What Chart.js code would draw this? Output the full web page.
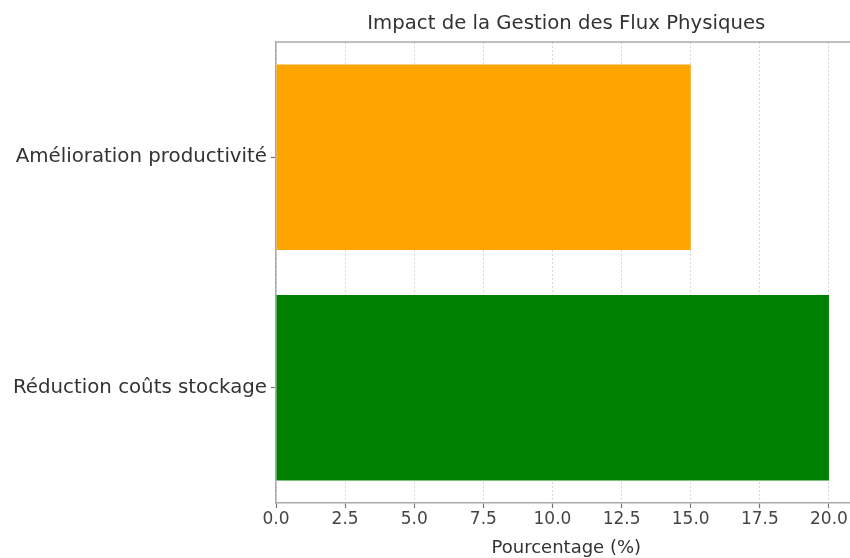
<!DOCTYPE html>
<html>
<head>
<meta charset="utf-8">
<script src="https://cdn.jsdelivr.net/npm/chart.js@4"></script>
<style>
  html, body { margin: 0; padding: 0; background: #fff; overflow: hidden; }
  #wrap { width: 870px; height: 558px; }
</style>
</head>
<body>
<div id="wrap"><canvas id="chart" width="870" height="558"></canvas></div>
<script>
// Données du graphique (de haut en bas)
const categories = ['Amélioration productivité', 'Réduction coûts stockage'];
const values = [15, 20];
const barColors = ['#FFA500', '#008000'];
const xTicks = [0, 2.5, 5, 7.5, 10, 12.5, 15, 17.5, 20];

const FONT = '"DejaVu Sans", sans-serif';

// Cadre du haut (la bordure droite sort de l'image)
const topFrame = {
    id: 'topFrame',
    afterDraw(chart) {
        const { ctx, chartArea } = chart;
        ctx.save();
        ctx.strokeStyle = '#aaaaaa';
        ctx.lineWidth = 1.5;
        ctx.beginPath();
        ctx.moveTo(chartArea.left, chartArea.top);
        ctx.lineTo(chartArea.right, chartArea.top);
        ctx.stroke();
        ctx.restore();
    }
};

const ctx = document.getElementById('chart').getContext('2d');
new Chart(ctx, {
    type: 'bar',
    data: {
        labels: categories,
        datasets: [{
            data: values,
            backgroundColor: barColors,
            borderWidth: 0,
            barPercentage: 0.805,
            categoryPercentage: 1.0
        }]
    },
    options: {
        indexAxis: 'y',
        responsive: false,
        animation: false,
        layout: { padding: { left: 0, right: 13.4, top: 0, bottom: 0 } },
        plugins: {
            legend: { display: false },
            tooltip: { enabled: false },
            title: {
                display: true,
                fullSize: false,
                text: 'Impact de la Gestion des Flux Physiques',
                color: '#333333',
                font: { family: FONT, size: 19.7, weight: 'normal' },
                padding: { top: 12.2, bottom: 6.2 }
            }
        },
        scales: {
            x: {
                min: 0,
                max: 21,
                afterBuildTicks: (scale) => {
                    scale.ticks = xTicks.map(v => ({ value: v }));
                },
                afterFit: (scale) => { scale.height = 55; },
                grid: {
                    color: '#d8d8d8',
                    lineWidth: 1,
                    drawTicks: true,
                    tickLength: 5,
                    tickColor: '#777777',
                    tickWidth: 1.2,
                    tickBorderDash: []
                },
                border: { display: true, color: '#aaaaaa', width: 1.5, dash: [2, 2] },
                ticks: {
                    color: '#444444',
                    font: { family: FONT, size: 17 },
                    padding: 1,
                    maxRotation: 0,
                    callback: (v) => Number(v).toFixed(1)
                },
                title: {
                    display: true,
                    text: 'Pourcentage (%)',
                    color: '#333333',
                    font: { family: FONT, size: 18 },
                    padding: { top: 0, bottom: -1.5 }
                }
            },
            y: {
                offset: true,
                afterFit: (scale) => { scale.width = 276; },
                grid: {
                    offset: false,
                    drawOnChartArea: false,
                    drawTicks: true,
                    tickLength: 5,
                    tickColor: '#777777',
                    tickWidth: 1.2
                },
                border: { display: true, color: '#aaaaaa', width: 1.5 },
                ticks: {
                    color: '#333333',
                    font: { family: FONT, size: 19.8 },
                    padding: 4
                }
            }
        }
    },
    plugins: [topFrame]
});
</script>
</body>
</html>
